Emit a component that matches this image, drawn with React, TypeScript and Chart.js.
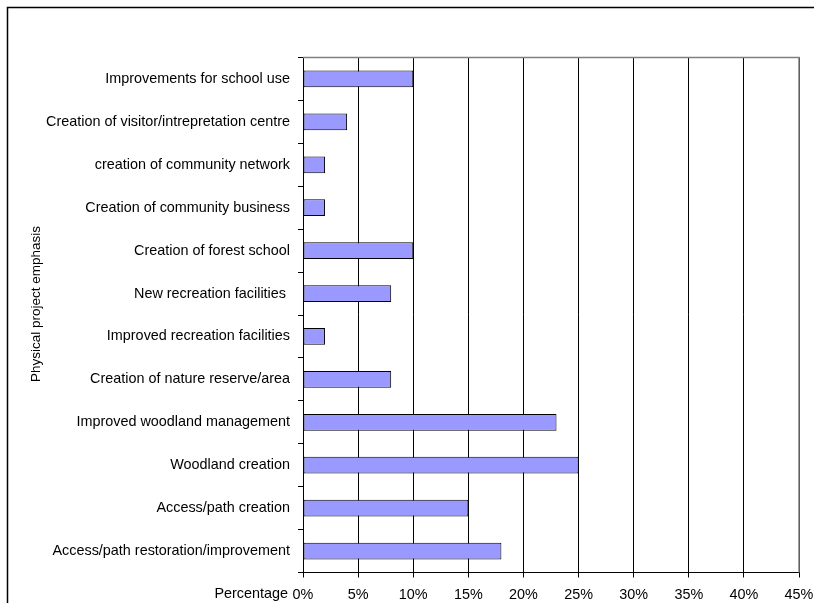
import React, { useEffect, useRef } from "react";
import { Chart, registerables } from "chart.js";

Chart.register(...registerables);

const categories = [
  "Improvements for school use",
  "Creation of visitor/intrepretation centre",
  "creation of community network",
  "Creation of community business",
  "Creation of forest school",
  "New recreation facilities ",
  "Improved recreation facilities",
  "Creation of nature reserve/area",
  "Improved woodland management",
  "Woodland creation",
  "Access/path creation",
  "Access/path restoration/improvement",
];

const percentages = [10, 4, 2, 2, 10, 8, 2, 8, 23, 25, 15, 18];

const xTicks = [0, 5, 10, 15, 20, 25, 30, 35, 40, 45];
const xTitle = "Percentage";
const yTitle = "Physical project emphasis";

const FONT = "'Liberation Sans', Arial, sans-serif";

export default function App() {
  const ref = useRef<HTMLCanvasElement | null>(null);

  useEffect(() => {
    if (!ref.current) return;
    const framePlugin = {
      id: "frame",
      afterDraw(chart: any) {
        const ctx = chart.ctx;
        const ca = chart.chartArea;
        ctx.save();
        // plot area border (top & right), grey
        ctx.strokeStyle = "#808080";
        ctx.lineWidth = 1.5;
        ctx.beginPath();
        ctx.moveTo(ca.left, ca.top);
        ctx.lineTo(ca.right, ca.top);
        ctx.lineTo(ca.right, ca.bottom);
        ctx.stroke();
        // outer chart frame
        ctx.strokeStyle = "#000";
        ctx.lineWidth = 1.5;
        ctx.strokeRect(7.5, 7.5, 900, 700);
        // titles
        ctx.fillStyle = "#000";
        ctx.font = `14.4px ${FONT}`;
        ctx.textAlign = "right";
        ctx.textBaseline = "middle";
        ctx.fillText(xTitle, ca.left - 15, 594.5);
        ctx.font = `13.5px ${FONT}`;
        ctx.translate(36, 304);
        ctx.rotate(-Math.PI / 2);
        ctx.textAlign = "center";
        ctx.fillText(yTitle, 0, 0);
        ctx.restore();
      },
    };
    const chart = new Chart(ref.current, {
      type: "bar",
      data: {
        labels: categories,
        datasets: [
          {
            data: percentages,
            backgroundColor: "#9999FF",
            borderColor: "#000",
            borderWidth: 1,
            borderSkipped: false,
            categoryPercentage: 1,
            barPercentage: 0.39,
          },
        ],
      },
      options: {
        indexAxis: "y",
        animation: false,
        responsive: false,
        maintainAspectRatio: false,
        layout: { padding: { left: 0, top: 57.5, right: 15, bottom: 0 } },
        plugins: { legend: { display: false }, tooltip: { enabled: false } },
        scales: {
          x: {
            min: 0,
            max: 45,
            afterBuildTicks: (s: any) => {
              s.ticks = xTicks.map((v) => ({ value: v }));
            },
            afterFit: (s: any) => {
              s.height = 30.5;
              s.paddingRight = 0;
              s.paddingLeft = 0;
            },
            ticks: {
              color: "#000",
              font: { family: FONT, size: 14.4 },
              padding: 9,
              maxRotation: 0,
              callback: (v: any) => `${v}%`,
            },
            grid: { color: "#000", lineWidth: 1, tickLength: 5, drawTicks: true },
            border: { color: "#000", width: 1 },
          },
          y: {
            afterFit: (s: any) => {
              s.width = 303;
              s.paddingTop = 0;
              s.paddingBottom = 0;
            },
            ticks: {
              color: "#000",
              font: { family: FONT, size: 14.4 },
              padding: 8,
            },
            grid: {
              offset: true,
              drawOnChartArea: false,
              drawTicks: true,
              tickLength: 5,
              color: "#000",
            },
            border: { color: "#000", width: 1 },
          },
        },
      },
      plugins: [framePlugin],
    });
    return () => chart.destroy();
  }, []);

  return (
    <div style={{ position: "absolute", left: 0, top: 0, width: 814, height: 603, background: "#fff" }}>
      <canvas ref={ref} width={814} height={603} style={{ display: "block" }} />
    </div>
  );
}
